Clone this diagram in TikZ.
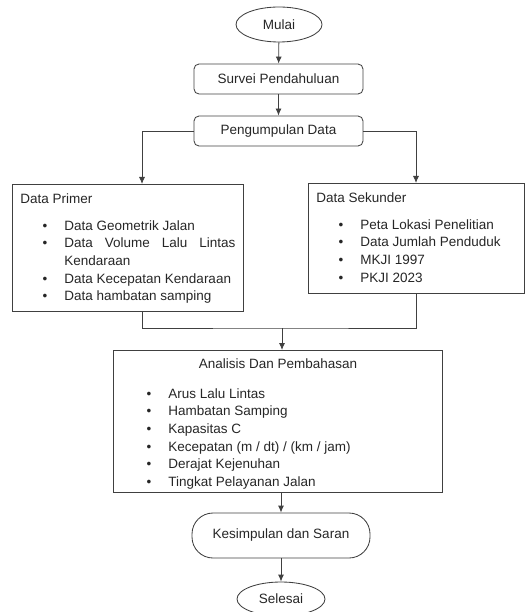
\documentclass[tikz,border=0pt]{standalone}
\usepackage{fontspec}
\setmainfont{Liberation Sans}
\usepackage{enumitem}
\usetikzlibrary{arrows.meta, shapes.geometric, positioning}

\begin{document}
\begin{tikzpicture}[x=1pt, y=-1pt, font=\fontsize{13.5}{17.7}\selectfont, text=black!85,
    garis/.style={draw=black!75, line width=0.85pt},
    panah/.style={garis, -{Latex[length=7pt, width=6pt]}},
    terminal/.style={ellipse, garis, minimum width=86pt, minimum height=35pt, inner sep=0pt},
    proses/.style={rectangle, rounded corners=5pt, garis, minimum width=169pt, minimum height=30pt},
    kotak/.style={rectangle, garis, anchor=north west, align=justify, inner xsep=8pt, inner ysep=0pt}]
    \useasboundingbox (0,0) rectangle (525,612);

    \node[terminal] (mulai) at (279,24.5) {Mulai};
    \node[proses] (survei) at (278.5,79) {Survei Pendahuluan};
    \node[proses] (kumpul) at (278.5,131) {Pengumpulan Data};

    \node[kotak, text width=215pt, text height=19pt, text depth=108pt] (primer) at (12,184) {Data Primer
        \begin{itemize}[leftmargin=44pt, labelsep=17pt, topsep=9pt, noitemsep]
            \item Data Geometrik Jalan
            \item Data Volume Lalu Lintas Kendaraan
            \item Data Kecepatan Kendaraan
            \item Data hambatan samping
        \end{itemize}};
    \node[kotak, text width=200pt, text height=19pt, text depth=91pt] (sekunder) at (308,183) {Data Sekunder
        \begin{itemize}[leftmargin=44pt, labelsep=17pt, topsep=9pt, noitemsep]
            \item Peta Lokasi Penelitian
            \item Data Jumlah Penduduk
            \item MKJI 1997
            \item PKJI 2023
        \end{itemize}};

    \node[kotak, text width=313pt, text height=18pt, text depth=124pt] (analisis) at (113,350) {{\centering Analisis Dan Pembahasan\par}
        \begin{itemize}[leftmargin=47pt, labelsep=17pt, topsep=10pt, noitemsep]
            \item Arus Lalu Lintas
            \item Hambatan Samping
            \item Kapasitas C
            \item Kecepatan (m / dt) / (km / jam)
            \item Derajat Kejenuhan
            \item Tingkat Pelayanan Jalan
        \end{itemize}};

    \node[garis, rounded corners=21pt, minimum width=178pt, minimum height=45pt] (kesimpulan) at (281,535.5) {Kesimpulan dan Saran};
    \node[terminal, minimum width=88pt, minimum height=34pt] (selesai) at (281,599) {Selesai};

    \coordinate (kiri) at (142,184);
    \coordinate (kanan) at (416,183);
    \coordinate (temu) at (282,328);

    \draw[panah] (mulai) -- (survei);
    \draw[panah] (survei) -- (kumpul);
    \draw[panah] (kumpul.west) -| (kiri);
    \draw[panah] (kumpul.east) -| (kanan);
    \draw[garis] (primer.south -| kiri) |- (temu) -| (sekunder.south -| kanan);
    \draw[panah] (temu) -- (analisis.north -| temu);
    \draw[panah] (analisis.south -| kesimpulan.north) -- (kesimpulan.north);
    \draw[panah] (kesimpulan) -- (selesai);
\end{tikzpicture}
\end{document}
